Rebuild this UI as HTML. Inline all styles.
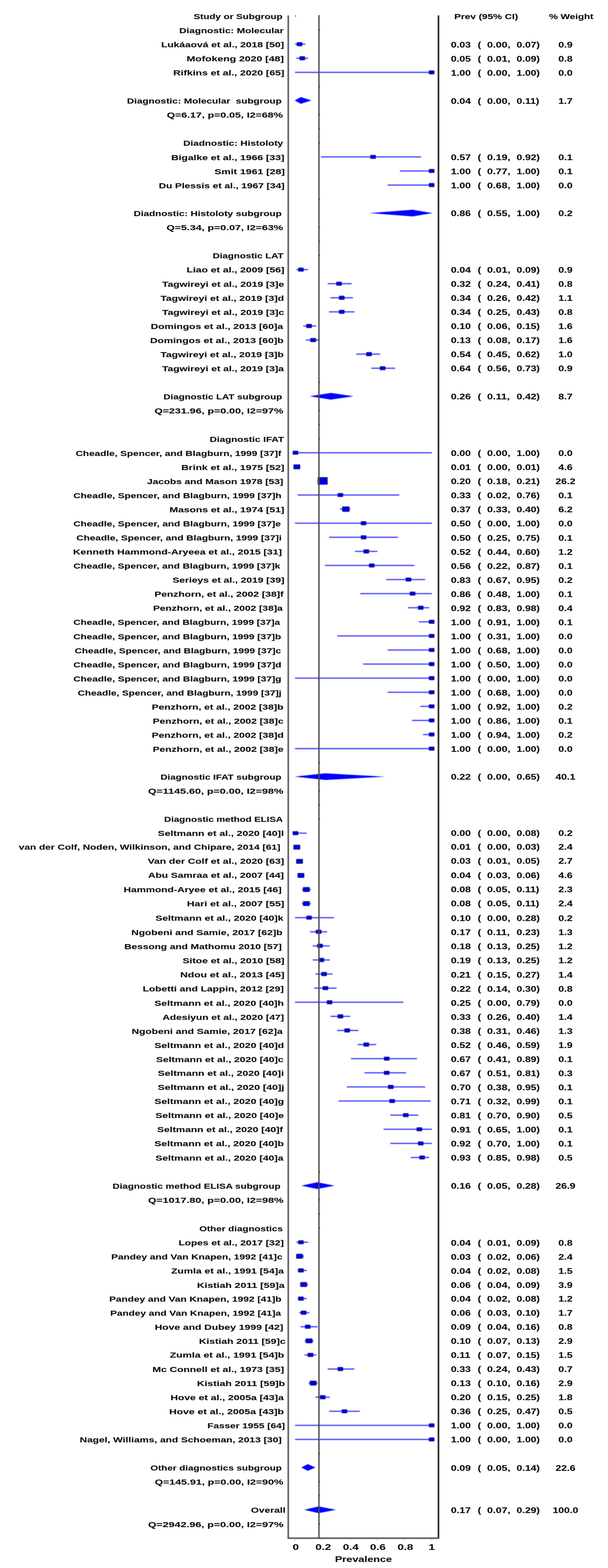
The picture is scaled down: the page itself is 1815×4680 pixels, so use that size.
<!DOCTYPE html>
<html lang="en"><head><meta charset="utf-8"><title>Forest plot</title>
<style>
html,body{margin:0;padding:0;background:#fff}
body{width:1815px;height:4680px;position:relative}
#fig{position:absolute;left:0;top:0;width:1815px;height:4680px}
#page{position:absolute;left:0;top:0;width:1815px;height:4680px}

.t{position:absolute;font:bold 22px/24px "Liberation Sans",sans-serif;color:#111;text-shadow:0 0 1.2px rgba(0,0,0,.45);white-space:pre;height:24px}
.r{transform-origin:0 50%}
.c{width:120px;text-align:center;transform-origin:50% 50%}
.ci{fill:#2c2cff}
.b{fill:#0000e0;stroke:#000058;stroke-width:1.6}
.d{fill:#0000ff}
</style></head><body><div id="page">
<svg id="fig" width="1815" height="4680" viewBox="0 0 1815 4680">
<defs>
<filter id="bl" x="-10%" y="-60%" width="120%" height="220%"><feGaussianBlur stdDeviation="0.8"/></filter>
<linearGradient id="gv" x1="0" y1="0" x2="1" y2="0"><stop offset="0.000" stop-color="#4a4a4a" stop-opacity="0.000"/><stop offset="0.025" stop-color="#4a4a4a" stop-opacity="0.000"/><stop offset="0.050" stop-color="#4a4a4a" stop-opacity="0.000"/><stop offset="0.075" stop-color="#4a4a4a" stop-opacity="0.000"/><stop offset="0.100" stop-color="#4a4a4a" stop-opacity="0.001"/><stop offset="0.125" stop-color="#4a4a4a" stop-opacity="0.016"/><stop offset="0.150" stop-color="#4a4a4a" stop-opacity="0.045"/><stop offset="0.175" stop-color="#4a4a4a" stop-opacity="0.091"/><stop offset="0.200" stop-color="#4a4a4a" stop-opacity="0.152"/><stop offset="0.225" stop-color="#4a4a4a" stop-opacity="0.229"/><stop offset="0.250" stop-color="#4a4a4a" stop-opacity="0.321"/><stop offset="0.275" stop-color="#4a4a4a" stop-opacity="0.429"/><stop offset="0.300" stop-color="#4a4a4a" stop-opacity="0.550"/><stop offset="0.325" stop-color="#4a4a4a" stop-opacity="0.661"/><stop offset="0.350" stop-color="#4a4a4a" stop-opacity="0.756"/><stop offset="0.375" stop-color="#4a4a4a" stop-opacity="0.835"/><stop offset="0.400" stop-color="#4a4a4a" stop-opacity="0.899"/><stop offset="0.425" stop-color="#4a4a4a" stop-opacity="0.948"/><stop offset="0.450" stop-color="#4a4a4a" stop-opacity="0.980"/><stop offset="0.475" stop-color="#4a4a4a" stop-opacity="0.997"/><stop offset="0.500" stop-color="#4a4a4a" stop-opacity="1.000"/><stop offset="0.525" stop-color="#4a4a4a" stop-opacity="0.997"/><stop offset="0.550" stop-color="#4a4a4a" stop-opacity="0.980"/><stop offset="0.575" stop-color="#4a4a4a" stop-opacity="0.947"/><stop offset="0.600" stop-color="#4a4a4a" stop-opacity="0.898"/><stop offset="0.625" stop-color="#4a4a4a" stop-opacity="0.834"/><stop offset="0.650" stop-color="#4a4a4a" stop-opacity="0.754"/><stop offset="0.675" stop-color="#4a4a4a" stop-opacity="0.659"/><stop offset="0.700" stop-color="#4a4a4a" stop-opacity="0.548"/><stop offset="0.725" stop-color="#4a4a4a" stop-opacity="0.427"/><stop offset="0.750" stop-color="#4a4a4a" stop-opacity="0.319"/><stop offset="0.775" stop-color="#4a4a4a" stop-opacity="0.227"/><stop offset="0.800" stop-color="#4a4a4a" stop-opacity="0.151"/><stop offset="0.825" stop-color="#4a4a4a" stop-opacity="0.090"/><stop offset="0.850" stop-color="#4a4a4a" stop-opacity="0.045"/><stop offset="0.875" stop-color="#4a4a4a" stop-opacity="0.015"/><stop offset="0.900" stop-color="#4a4a4a" stop-opacity="0.001"/><stop offset="0.925" stop-color="#4a4a4a" stop-opacity="0.000"/><stop offset="0.950" stop-color="#4a4a4a" stop-opacity="0.000"/><stop offset="0.975" stop-color="#4a4a4a" stop-opacity="0.000"/><stop offset="1.000" stop-color="#4a4a4a" stop-opacity="0.000"/></linearGradient>
<linearGradient id="gr" x1="0" y1="0" x2="1" y2="0"><stop offset="0.000" stop-color="#1a1a1a" stop-opacity="0.000"/><stop offset="0.025" stop-color="#1a1a1a" stop-opacity="0.000"/><stop offset="0.050" stop-color="#1a1a1a" stop-opacity="0.000"/><stop offset="0.075" stop-color="#1a1a1a" stop-opacity="0.000"/><stop offset="0.100" stop-color="#1a1a1a" stop-opacity="0.011"/><stop offset="0.125" stop-color="#1a1a1a" stop-opacity="0.038"/><stop offset="0.150" stop-color="#1a1a1a" stop-opacity="0.080"/><stop offset="0.175" stop-color="#1a1a1a" stop-opacity="0.138"/><stop offset="0.200" stop-color="#1a1a1a" stop-opacity="0.212"/><stop offset="0.225" stop-color="#1a1a1a" stop-opacity="0.301"/><stop offset="0.250" stop-color="#1a1a1a" stop-opacity="0.406"/><stop offset="0.275" stop-color="#1a1a1a" stop-opacity="0.526"/><stop offset="0.300" stop-color="#1a1a1a" stop-opacity="0.640"/><stop offset="0.325" stop-color="#1a1a1a" stop-opacity="0.738"/><stop offset="0.350" stop-color="#1a1a1a" stop-opacity="0.821"/><stop offset="0.375" stop-color="#1a1a1a" stop-opacity="0.888"/><stop offset="0.400" stop-color="#1a1a1a" stop-opacity="0.939"/><stop offset="0.425" stop-color="#1a1a1a" stop-opacity="0.975"/><stop offset="0.450" stop-color="#1a1a1a" stop-opacity="0.995"/><stop offset="0.475" stop-color="#1a1a1a" stop-opacity="1.000"/><stop offset="0.500" stop-color="#1a1a1a" stop-opacity="1.000"/><stop offset="0.525" stop-color="#1a1a1a" stop-opacity="1.000"/><stop offset="0.550" stop-color="#1a1a1a" stop-opacity="0.995"/><stop offset="0.575" stop-color="#1a1a1a" stop-opacity="0.975"/><stop offset="0.600" stop-color="#1a1a1a" stop-opacity="0.939"/><stop offset="0.625" stop-color="#1a1a1a" stop-opacity="0.888"/><stop offset="0.650" stop-color="#1a1a1a" stop-opacity="0.821"/><stop offset="0.675" stop-color="#1a1a1a" stop-opacity="0.738"/><stop offset="0.700" stop-color="#1a1a1a" stop-opacity="0.640"/><stop offset="0.725" stop-color="#1a1a1a" stop-opacity="0.526"/><stop offset="0.750" stop-color="#1a1a1a" stop-opacity="0.406"/><stop offset="0.775" stop-color="#1a1a1a" stop-opacity="0.301"/><stop offset="0.800" stop-color="#1a1a1a" stop-opacity="0.212"/><stop offset="0.825" stop-color="#1a1a1a" stop-opacity="0.138"/><stop offset="0.850" stop-color="#1a1a1a" stop-opacity="0.081"/><stop offset="0.875" stop-color="#1a1a1a" stop-opacity="0.038"/><stop offset="0.900" stop-color="#1a1a1a" stop-opacity="0.011"/><stop offset="0.925" stop-color="#1a1a1a" stop-opacity="0.000"/><stop offset="0.950" stop-color="#1a1a1a" stop-opacity="0.000"/><stop offset="0.975" stop-color="#1a1a1a" stop-opacity="0.000"/><stop offset="1.000" stop-color="#1a1a1a" stop-opacity="0.000"/></linearGradient>
<linearGradient id="gh" x1="0" y1="0" x2="0" y2="1"><stop offset="0.000" stop-color="#4a4a4a" stop-opacity="0.000"/><stop offset="0.025" stop-color="#4a4a4a" stop-opacity="0.000"/><stop offset="0.050" stop-color="#4a4a4a" stop-opacity="0.000"/><stop offset="0.075" stop-color="#4a4a4a" stop-opacity="0.000"/><stop offset="0.100" stop-color="#4a4a4a" stop-opacity="0.001"/><stop offset="0.125" stop-color="#4a4a4a" stop-opacity="0.016"/><stop offset="0.150" stop-color="#4a4a4a" stop-opacity="0.045"/><stop offset="0.175" stop-color="#4a4a4a" stop-opacity="0.091"/><stop offset="0.200" stop-color="#4a4a4a" stop-opacity="0.152"/><stop offset="0.225" stop-color="#4a4a4a" stop-opacity="0.229"/><stop offset="0.250" stop-color="#4a4a4a" stop-opacity="0.321"/><stop offset="0.275" stop-color="#4a4a4a" stop-opacity="0.429"/><stop offset="0.300" stop-color="#4a4a4a" stop-opacity="0.550"/><stop offset="0.325" stop-color="#4a4a4a" stop-opacity="0.661"/><stop offset="0.350" stop-color="#4a4a4a" stop-opacity="0.756"/><stop offset="0.375" stop-color="#4a4a4a" stop-opacity="0.835"/><stop offset="0.400" stop-color="#4a4a4a" stop-opacity="0.899"/><stop offset="0.425" stop-color="#4a4a4a" stop-opacity="0.948"/><stop offset="0.450" stop-color="#4a4a4a" stop-opacity="0.980"/><stop offset="0.475" stop-color="#4a4a4a" stop-opacity="0.997"/><stop offset="0.500" stop-color="#4a4a4a" stop-opacity="1.000"/><stop offset="0.525" stop-color="#4a4a4a" stop-opacity="0.997"/><stop offset="0.550" stop-color="#4a4a4a" stop-opacity="0.980"/><stop offset="0.575" stop-color="#4a4a4a" stop-opacity="0.947"/><stop offset="0.600" stop-color="#4a4a4a" stop-opacity="0.898"/><stop offset="0.625" stop-color="#4a4a4a" stop-opacity="0.834"/><stop offset="0.650" stop-color="#4a4a4a" stop-opacity="0.754"/><stop offset="0.675" stop-color="#4a4a4a" stop-opacity="0.659"/><stop offset="0.700" stop-color="#4a4a4a" stop-opacity="0.548"/><stop offset="0.725" stop-color="#4a4a4a" stop-opacity="0.427"/><stop offset="0.750" stop-color="#4a4a4a" stop-opacity="0.319"/><stop offset="0.775" stop-color="#4a4a4a" stop-opacity="0.227"/><stop offset="0.800" stop-color="#4a4a4a" stop-opacity="0.151"/><stop offset="0.825" stop-color="#4a4a4a" stop-opacity="0.090"/><stop offset="0.850" stop-color="#4a4a4a" stop-opacity="0.045"/><stop offset="0.875" stop-color="#4a4a4a" stop-opacity="0.015"/><stop offset="0.900" stop-color="#4a4a4a" stop-opacity="0.001"/><stop offset="0.925" stop-color="#4a4a4a" stop-opacity="0.000"/><stop offset="0.950" stop-color="#4a4a4a" stop-opacity="0.000"/><stop offset="0.975" stop-color="#4a4a4a" stop-opacity="0.000"/><stop offset="1.000" stop-color="#4a4a4a" stop-opacity="0.000"/></linearGradient>
</defs>
<g filter="url(#bl)"><rect class="ci" x="880.7" y="130.3" width="30.8" height="3.2"/><rect class="b" x="886.7" y="126.9" width="15.0" height="10.0" rx="1"/></g>
<g filter="url(#bl)"><rect class="ci" x="884.8" y="172.3" width="34.8" height="3.2"/><rect class="b" x="894.8" y="168.9" width="15.0" height="10.0" rx="1"/></g>
<g filter="url(#bl)"><rect class="ci" x="880.7" y="214.4" width="408.6" height="3.2"/><rect class="b" x="1281.0" y="211.0" width="15.0" height="10.0" rx="1"/></g>
<polygon class="d" filter="url(#bl)" points="879.5,299.7 898.3,289.7 929.7,299.7 898.3,309.7"/>
<g filter="url(#bl)"><rect class="ci" x="957.9" y="466.7" width="299.0" height="3.2"/><rect class="b" x="1106.2" y="463.3" width="15.0" height="10.0" rx="1"/></g>
<g filter="url(#bl)"><rect class="ci" x="1193.7" y="508.7" width="95.6" height="3.2"/><rect class="b" x="1281.0" y="505.3" width="15.0" height="10.0" rx="1"/></g>
<g filter="url(#bl)"><rect class="ci" x="1157.1" y="550.8" width="132.2" height="3.2"/><rect class="b" x="1281.0" y="547.4" width="15.0" height="10.0" rx="1"/></g>
<polygon class="d" filter="url(#bl)" points="1103.1,636.1 1231.6,626.1 1291.5,636.1 1231.6,646.1"/>
<g filter="url(#bl)"><rect class="ci" x="884.8" y="803.1" width="34.8" height="3.2"/><rect class="b" x="890.8" y="799.7" width="15.0" height="10.0" rx="1"/></g>
<g filter="url(#bl)"><rect class="ci" x="978.3" y="845.1" width="71.4" height="3.2"/><rect class="b" x="1004.6" y="841.7" width="15.0" height="10.0" rx="1"/></g>
<g filter="url(#bl)"><rect class="ci" x="986.4" y="887.2" width="67.3" height="3.2"/><rect class="b" x="1012.6" y="883.6" width="15.2" height="10.4" rx="1"/></g>
<g filter="url(#bl)"><rect class="ci" x="982.3" y="929.2" width="75.5" height="3.2"/><rect class="b" x="1012.7" y="925.8" width="15.0" height="10.0" rx="1"/></g>
<g filter="url(#bl)"><rect class="ci" x="905.1" y="971.3" width="38.9" height="3.2"/><rect class="b" x="915.0" y="967.7" width="15.2" height="10.4" rx="1"/></g>
<g filter="url(#bl)"><rect class="ci" x="913.2" y="1013.4" width="38.9" height="3.2"/><rect class="b" x="927.2" y="1009.8" width="15.2" height="10.4" rx="1"/></g>
<g filter="url(#bl)"><rect class="ci" x="1063.6" y="1055.4" width="71.4" height="3.2"/><rect class="b" x="1093.9" y="1051.8" width="15.2" height="10.4" rx="1"/></g>
<g filter="url(#bl)"><rect class="ci" x="1108.3" y="1097.5" width="71.4" height="3.2"/><rect class="b" x="1134.7" y="1094.0" width="15.0" height="10.0" rx="1"/></g>
<polygon class="d" filter="url(#bl)" points="924.2,1182.7 987.7,1172.7 1055.7,1182.7 987.7,1192.7"/>
<g filter="url(#bl)"><rect class="ci" x="880.7" y="1349.8" width="408.6" height="3.2"/><rect class="b" x="874.5" y="1346.3" width="15.0" height="10.0" rx="1"/></g>
<g filter="url(#bl)"><rect class="ci" x="880.7" y="1391.8" width="6.4" height="3.2"/><rect class="b" x="876.8" y="1387.1" width="18.6" height="12.6" rx="1"/></g>
<g filter="url(#bl)"><rect class="ci" x="953.9" y="1433.8" width="14.5" height="3.2"/><rect class="b" x="949.2" y="1425.1" width="28.1" height="20.6" rx="1"/></g>
<g filter="url(#bl)"><rect class="ci" x="888.8" y="1475.9" width="303.1" height="3.2"/><rect class="b" x="1008.6" y="1472.5" width="15.0" height="10.0" rx="1"/></g>
<g filter="url(#bl)"><rect class="ci" x="1014.8" y="1518.0" width="30.8" height="3.2"/><rect class="b" x="1022.1" y="1512.5" width="20.6" height="14.1" rx="1"/></g>
<g filter="url(#bl)"><rect class="ci" x="880.7" y="1560.0" width="408.6" height="3.2"/><rect class="b" x="1077.8" y="1556.6" width="15.0" height="10.0" rx="1"/></g>
<g filter="url(#bl)"><rect class="ci" x="982.3" y="1602.0" width="205.6" height="3.2"/><rect class="b" x="1077.8" y="1598.6" width="15.0" height="10.0" rx="1"/></g>
<g filter="url(#bl)"><rect class="ci" x="1059.6" y="1644.1" width="67.3" height="3.2"/><rect class="b" x="1085.8" y="1640.5" width="15.2" height="10.4" rx="1"/></g>
<g filter="url(#bl)"><rect class="ci" x="970.1" y="1686.1" width="266.5" height="3.2"/><rect class="b" x="1102.1" y="1682.7" width="15.0" height="10.0" rx="1"/></g>
<g filter="url(#bl)"><rect class="ci" x="1153.1" y="1728.2" width="116.1" height="3.2"/><rect class="b" x="1211.9" y="1724.8" width="15.0" height="10.0" rx="1"/></g>
<g filter="url(#bl)"><rect class="ci" x="1075.8" y="1770.2" width="213.5" height="3.2"/><rect class="b" x="1224.1" y="1766.8" width="15.0" height="10.0" rx="1"/></g>
<g filter="url(#bl)"><rect class="ci" x="1218.1" y="1812.3" width="63.3" height="3.2"/><rect class="b" x="1248.5" y="1808.9" width="15.0" height="10.0" rx="1"/></g>
<g filter="url(#bl)"><rect class="ci" x="1250.6" y="1854.3" width="38.7" height="3.2"/><rect class="b" x="1281.0" y="1850.9" width="15.0" height="10.0" rx="1"/></g>
<g filter="url(#bl)"><rect class="ci" x="1006.7" y="1896.4" width="282.6" height="3.2"/><rect class="b" x="1281.0" y="1893.0" width="15.0" height="10.0" rx="1"/></g>
<g filter="url(#bl)"><rect class="ci" x="1157.1" y="1938.4" width="132.2" height="3.2"/><rect class="b" x="1281.0" y="1935.0" width="15.0" height="10.0" rx="1"/></g>
<g filter="url(#bl)"><rect class="ci" x="1084.0" y="1980.5" width="205.3" height="3.2"/><rect class="b" x="1281.0" y="1977.1" width="15.0" height="10.0" rx="1"/></g>
<g filter="url(#bl)"><rect class="ci" x="880.7" y="2022.5" width="408.6" height="3.2"/><rect class="b" x="1281.0" y="2019.1" width="15.0" height="10.0" rx="1"/></g>
<g filter="url(#bl)"><rect class="ci" x="1157.1" y="2064.6" width="132.2" height="3.2"/><rect class="b" x="1281.0" y="2061.2" width="15.0" height="10.0" rx="1"/></g>
<g filter="url(#bl)"><rect class="ci" x="1254.7" y="2106.7" width="34.6" height="3.2"/><rect class="b" x="1281.0" y="2103.2" width="15.0" height="10.0" rx="1"/></g>
<g filter="url(#bl)"><rect class="ci" x="1230.3" y="2148.7" width="59.0" height="3.2"/><rect class="b" x="1281.0" y="2145.3" width="15.0" height="10.0" rx="1"/></g>
<g filter="url(#bl)"><rect class="ci" x="1262.8" y="2190.8" width="26.5" height="3.2"/><rect class="b" x="1281.0" y="2187.3" width="15.0" height="10.0" rx="1"/></g>
<g filter="url(#bl)"><rect class="ci" x="880.7" y="2232.8" width="408.6" height="3.2"/><rect class="b" x="1281.0" y="2229.4" width="15.0" height="10.0" rx="1"/></g>
<polygon class="d" filter="url(#bl)" points="879.5,2318.1 971.4,2308.1 1149.2,2318.1 971.4,2328.1"/>
<g filter="url(#bl)"><rect class="ci" x="880.7" y="2485.1" width="34.8" height="3.2"/><rect class="b" x="874.5" y="2481.7" width="15.0" height="10.0" rx="1"/></g>
<g filter="url(#bl)"><rect class="ci" x="880.7" y="2527.2" width="14.5" height="3.2"/><rect class="b" x="876.8" y="2522.4" width="18.6" height="12.6" rx="1"/></g>
<g filter="url(#bl)"><rect class="ci" x="884.8" y="2569.2" width="18.6" height="3.2"/><rect class="b" x="884.9" y="2564.5" width="18.6" height="12.6" rx="1"/></g>
<g filter="url(#bl)"><rect class="ci" x="892.9" y="2611.2" width="14.5" height="3.2"/><rect class="b" x="889.0" y="2606.5" width="18.6" height="12.6" rx="1"/></g>
<g filter="url(#bl)"><rect class="ci" x="901.0" y="2653.3" width="26.7" height="3.2"/><rect class="b" x="905.2" y="2648.6" width="18.6" height="12.6" rx="1"/></g>
<g filter="url(#bl)"><rect class="ci" x="901.0" y="2695.3" width="26.7" height="3.2"/><rect class="b" x="905.2" y="2690.6" width="18.6" height="12.6" rx="1"/></g>
<g filter="url(#bl)"><rect class="ci" x="880.7" y="2737.4" width="116.1" height="3.2"/><rect class="b" x="915.1" y="2734.0" width="15.0" height="10.0" rx="1"/></g>
<g filter="url(#bl)"><rect class="ci" x="925.4" y="2779.5" width="51.1" height="3.2"/><rect class="b" x="943.5" y="2775.9" width="15.2" height="10.4" rx="1"/></g>
<g filter="url(#bl)"><rect class="ci" x="933.5" y="2821.5" width="51.1" height="3.2"/><rect class="b" x="947.6" y="2817.9" width="15.2" height="10.4" rx="1"/></g>
<g filter="url(#bl)"><rect class="ci" x="933.5" y="2863.6" width="51.1" height="3.2"/><rect class="b" x="951.6" y="2860.0" width="15.2" height="10.4" rx="1"/></g>
<g filter="url(#bl)"><rect class="ci" x="941.7" y="2905.6" width="51.1" height="3.2"/><rect class="b" x="959.8" y="2902.0" width="15.2" height="10.4" rx="1"/></g>
<g filter="url(#bl)"><rect class="ci" x="937.6" y="2947.7" width="67.3" height="3.2"/><rect class="b" x="963.9" y="2944.2" width="15.0" height="10.0" rx="1"/></g>
<g filter="url(#bl)"><rect class="ci" x="880.7" y="2989.8" width="323.4" height="3.2"/><rect class="b" x="976.1" y="2986.4" width="15.0" height="10.0" rx="1"/></g>
<g filter="url(#bl)"><rect class="ci" x="986.4" y="3031.9" width="59.2" height="3.2"/><rect class="b" x="1008.5" y="3028.3" width="15.2" height="10.4" rx="1"/></g>
<g filter="url(#bl)"><rect class="ci" x="1006.7" y="3074.0" width="63.3" height="3.2"/><rect class="b" x="1028.9" y="3070.4" width="15.2" height="10.4" rx="1"/></g>
<g filter="url(#bl)"><rect class="ci" x="1067.7" y="3116.1" width="55.1" height="3.2"/><rect class="b" x="1085.8" y="3112.5" width="15.2" height="10.4" rx="1"/></g>
<g filter="url(#bl)"><rect class="ci" x="1047.4" y="3158.2" width="197.4" height="3.2"/><rect class="b" x="1146.9" y="3154.8" width="15.0" height="10.0" rx="1"/></g>
<g filter="url(#bl)"><rect class="ci" x="1088.0" y="3200.4" width="124.3" height="3.2"/><rect class="b" x="1146.9" y="3197.0" width="15.0" height="10.0" rx="1"/></g>
<g filter="url(#bl)"><rect class="ci" x="1035.2" y="3242.5" width="234.0" height="3.2"/><rect class="b" x="1159.0" y="3239.1" width="15.0" height="10.0" rx="1"/></g>
<g filter="url(#bl)"><rect class="ci" x="1010.8" y="3284.6" width="274.7" height="3.2"/><rect class="b" x="1163.1" y="3281.2" width="15.0" height="10.0" rx="1"/></g>
<g filter="url(#bl)"><rect class="ci" x="1165.2" y="3326.8" width="83.6" height="3.2"/><rect class="b" x="1203.8" y="3323.4" width="15.0" height="10.0" rx="1"/></g>
<g filter="url(#bl)"><rect class="ci" x="1144.9" y="3368.9" width="144.4" height="3.2"/><rect class="b" x="1244.4" y="3365.5" width="15.0" height="10.0" rx="1"/></g>
<g filter="url(#bl)"><rect class="ci" x="1165.2" y="3411.1" width="124.0" height="3.2"/><rect class="b" x="1248.5" y="3407.7" width="15.0" height="10.0" rx="1"/></g>
<g filter="url(#bl)"><rect class="ci" x="1226.2" y="3453.2" width="55.1" height="3.2"/><rect class="b" x="1252.5" y="3449.8" width="15.0" height="10.0" rx="1"/></g>
<polygon class="d" filter="url(#bl)" points="899.8,3538.7 947.0,3528.7 998.8,3538.7 947.0,3548.7"/>
<g filter="url(#bl)"><rect class="ci" x="884.8" y="3706.1" width="34.8" height="3.2"/><rect class="b" x="890.8" y="3702.7" width="15.0" height="10.0" rx="1"/></g>
<g filter="url(#bl)"><rect class="ci" x="888.8" y="3748.1" width="18.6" height="3.2"/><rect class="b" x="884.9" y="3743.4" width="18.6" height="12.6" rx="1"/></g>
<g filter="url(#bl)"><rect class="ci" x="888.8" y="3790.2" width="26.7" height="3.2"/><rect class="b" x="890.7" y="3786.6" width="15.2" height="10.4" rx="1"/></g>
<g filter="url(#bl)"><rect class="ci" x="897.0" y="3832.2" width="22.6" height="3.2"/><rect class="b" x="897.1" y="3827.5" width="18.6" height="12.6" rx="1"/></g>
<g filter="url(#bl)"><rect class="ci" x="888.8" y="3874.2" width="26.7" height="3.2"/><rect class="b" x="890.7" y="3870.7" width="15.2" height="10.4" rx="1"/></g>
<g filter="url(#bl)"><rect class="ci" x="892.9" y="3916.3" width="30.8" height="3.2"/><rect class="b" x="898.8" y="3912.7" width="15.2" height="10.4" rx="1"/></g>
<g filter="url(#bl)"><rect class="ci" x="897.0" y="3958.3" width="51.1" height="3.2"/><rect class="b" x="911.1" y="3954.9" width="15.0" height="10.0" rx="1"/></g>
<g filter="url(#bl)"><rect class="ci" x="909.2" y="4000.4" width="26.7" height="3.2"/><rect class="b" x="913.4" y="3995.7" width="18.6" height="12.6" rx="1"/></g>
<g filter="url(#bl)"><rect class="ci" x="909.2" y="4042.4" width="34.8" height="3.2"/><rect class="b" x="919.1" y="4038.8" width="15.2" height="10.4" rx="1"/></g>
<g filter="url(#bl)"><rect class="ci" x="978.3" y="4084.5" width="79.5" height="3.2"/><rect class="b" x="1008.6" y="4081.1" width="15.0" height="10.0" rx="1"/></g>
<g filter="url(#bl)"><rect class="ci" x="921.4" y="4126.5" width="26.7" height="3.2"/><rect class="b" x="925.5" y="4121.8" width="18.6" height="12.6" rx="1"/></g>
<g filter="url(#bl)"><rect class="ci" x="941.7" y="4168.6" width="42.9" height="3.2"/><rect class="b" x="955.7" y="4165.0" width="15.2" height="10.4" rx="1"/></g>
<g filter="url(#bl)"><rect class="ci" x="982.3" y="4210.6" width="91.7" height="3.2"/><rect class="b" x="1020.8" y="4207.2" width="15.0" height="10.0" rx="1"/></g>
<g filter="url(#bl)"><rect class="ci" x="880.7" y="4252.7" width="408.6" height="3.2"/><rect class="b" x="1281.0" y="4249.3" width="15.0" height="10.0" rx="1"/></g>
<g filter="url(#bl)"><rect class="ci" x="880.7" y="4294.7" width="408.6" height="3.2"/><rect class="b" x="1281.0" y="4291.3" width="15.0" height="10.0" rx="1"/></g>
<polygon class="d" filter="url(#bl)" points="899.8,4380.1 918.6,4370.1 941.9,4380.1 918.6,4390.1"/>
<polygon class="d" filter="url(#bl)" points="908.0,4506.2 951.1,4496.2 1002.9,4506.2 951.1,4516.2"/>
<rect x="855.50" y="46.0" width="10" height="4546.5" fill="url(#gv)"/>
<rect x="947.10" y="45.0" width="10" height="4546.0" fill="url(#gv)"/>
<rect x="1303.90" y="46.0" width="10" height="4546.0" fill="url(#gr)"/>
<rect x="859.0" y="4586.00" width="451.4" height="10" fill="url(#gh)"/>
<rect x="880.4" y="46.5" width="3" height="3" fill="#1a1a1a" filter="url(#bl)"/>
<rect x="951.9" y="88.3" width="3" height="3" fill="#1a1a1a" filter="url(#bl)"/>
<rect x="951.9" y="256.6" width="3" height="3" fill="#1a1a1a" filter="url(#bl)"/>
<rect x="951.9" y="340.6" width="3" height="3" fill="#1a1a1a" filter="url(#bl)"/>
<rect x="951.9" y="382.7" width="3" height="3" fill="#1a1a1a" filter="url(#bl)"/>
<rect x="951.9" y="424.8" width="3" height="3" fill="#1a1a1a" filter="url(#bl)"/>
<rect x="951.9" y="592.9" width="3" height="3" fill="#1a1a1a" filter="url(#bl)"/>
<rect x="951.9" y="677.0" width="3" height="3" fill="#1a1a1a" filter="url(#bl)"/>
<rect x="951.9" y="719.1" width="3" height="3" fill="#1a1a1a" filter="url(#bl)"/>
<rect x="951.9" y="761.1" width="3" height="3" fill="#1a1a1a" filter="url(#bl)"/>
<rect x="951.9" y="1139.6" width="3" height="3" fill="#1a1a1a" filter="url(#bl)"/>
<rect x="951.9" y="1223.7" width="3" height="3" fill="#1a1a1a" filter="url(#bl)"/>
<rect x="951.9" y="1265.7" width="3" height="3" fill="#1a1a1a" filter="url(#bl)"/>
<rect x="951.9" y="1307.8" width="3" height="3" fill="#1a1a1a" filter="url(#bl)"/>
<rect x="951.9" y="2274.9" width="3" height="3" fill="#1a1a1a" filter="url(#bl)"/>
<rect x="951.9" y="2359.1" width="3" height="3" fill="#1a1a1a" filter="url(#bl)"/>
<rect x="951.9" y="2401.1" width="3" height="3" fill="#1a1a1a" filter="url(#bl)"/>
<rect x="951.9" y="2443.2" width="3" height="3" fill="#1a1a1a" filter="url(#bl)"/>
<rect x="951.9" y="3495.4" width="3" height="3" fill="#1a1a1a" filter="url(#bl)"/>
<rect x="951.9" y="3579.7" width="3" height="3" fill="#1a1a1a" filter="url(#bl)"/>
<rect x="951.9" y="3621.9" width="3" height="3" fill="#1a1a1a" filter="url(#bl)"/>
<rect x="951.9" y="3664.0" width="3" height="3" fill="#1a1a1a" filter="url(#bl)"/>
<rect x="951.9" y="4336.9" width="3" height="3" fill="#1a1a1a" filter="url(#bl)"/>
<rect x="951.9" y="4421.0" width="3" height="3" fill="#1a1a1a" filter="url(#bl)"/>
<rect x="951.9" y="4463.1" width="3" height="3" fill="#1a1a1a" filter="url(#bl)"/>
<rect x="951.9" y="4547.1" width="3" height="3" fill="#1a1a1a" filter="url(#bl)"/>
<line x1="880.8" y1="4592.5" x2="880.8" y2="4598.0" stroke="#bdbdbd" stroke-width="2"/>
<line x1="962.4" y1="4592.5" x2="962.4" y2="4598.0" stroke="#bdbdbd" stroke-width="2"/>
<line x1="1044.0" y1="4592.5" x2="1044.0" y2="4598.0" stroke="#bdbdbd" stroke-width="2"/>
<line x1="1125.6" y1="4592.5" x2="1125.6" y2="4598.0" stroke="#bdbdbd" stroke-width="2"/>
<line x1="1207.2" y1="4592.5" x2="1207.2" y2="4598.0" stroke="#bdbdbd" stroke-width="2"/>
<line x1="1288.8" y1="4592.5" x2="1288.8" y2="4598.0" stroke="#bdbdbd" stroke-width="2"/>
</svg>
<div class="t r" style="top:38.18px;left:577.80px;transform:scaleX(1.3323)">Study or Subgroup</div>
<div class="t r" style="top:38.38px;left:1356.07px;transform:scaleX(1.3552)">Prev (95% CI)</div>
<div class="t r" style="top:38.38px;left:1639.00px;transform:scaleX(1.3425)">% Weight</div>
<div class="t r" style="top:80.21px;left:534.56px;transform:scaleX(1.3637)">Diagnostic: Molecular</div>
<div class="t r" style="top:122.24px;left:480.92px;transform:scaleX(1.3892)">Lukáaová et al., 2018 [50]</div>
<div class="t r" style="top:121.55px;left:1345.60px;transform:scaleX(1.2775);font-size:24px">0.03</div>
<div class="t r" style="top:121.55px;left:1425.60px;transform:scaleX(1.2775);font-size:24px">(</div>
<div class="t r" style="top:121.55px;left:1453.60px;transform:scaleX(1.3037);font-size:24px">0.00,</div>
<div class="t r" style="top:121.55px;left:1542.00px;transform:scaleX(1.2688);font-size:24px">0.07)</div>
<div class="t c" style="top:121.55px;left:1628.30px;transform:scaleX(1.2775);font-size:24px">0.9</div>
<div class="t r" style="top:164.28px;left:557.46px;transform:scaleX(1.4224)">Mofokeng 2020 [48]</div>
<div class="t r" style="top:163.58px;left:1345.60px;transform:scaleX(1.2775);font-size:24px">0.05</div>
<div class="t r" style="top:163.58px;left:1425.60px;transform:scaleX(1.2775);font-size:24px">(</div>
<div class="t r" style="top:163.58px;left:1453.60px;transform:scaleX(1.3037);font-size:24px">0.01,</div>
<div class="t r" style="top:163.58px;left:1542.00px;transform:scaleX(1.2688);font-size:24px">0.09)</div>
<div class="t c" style="top:163.58px;left:1628.30px;transform:scaleX(1.2775);font-size:24px">0.8</div>
<div class="t r" style="top:206.31px;left:517.49px;transform:scaleX(1.4063)">Rifkins et al., 2020 [65]</div>
<div class="t r" style="top:205.62px;left:1345.60px;transform:scaleX(1.2775);font-size:24px">1.00</div>
<div class="t r" style="top:205.62px;left:1425.60px;transform:scaleX(1.2775);font-size:24px">(</div>
<div class="t r" style="top:205.62px;left:1453.60px;transform:scaleX(1.3037);font-size:24px">0.00,</div>
<div class="t r" style="top:205.62px;left:1542.00px;transform:scaleX(1.2688);font-size:24px">1.00)</div>
<div class="t c" style="top:205.62px;left:1628.30px;transform:scaleX(1.2775);font-size:24px">0.0</div>
<div class="t r" style="top:290.38px;left:379.38px;transform:scaleX(1.3496)">Diagnostic: Molecular  subgroup</div>
<div class="t r" style="top:289.68px;left:1345.60px;transform:scaleX(1.2775);font-size:24px">0.04</div>
<div class="t r" style="top:289.68px;left:1425.60px;transform:scaleX(1.2775);font-size:24px">(</div>
<div class="t r" style="top:289.68px;left:1453.60px;transform:scaleX(1.3037);font-size:24px">0.00,</div>
<div class="t r" style="top:289.68px;left:1542.00px;transform:scaleX(1.2688);font-size:24px">0.11)</div>
<div class="t c" style="top:289.68px;left:1628.30px;transform:scaleX(1.2775);font-size:24px">1.7</div>
<div class="t r" style="top:332.41px;left:497.60px;transform:scaleX(1.4347)">Q=6.17, p=0.05, I2=68%</div>
<div class="t r" style="top:416.48px;left:546.87px;transform:scaleX(1.3551)">Diadnostic: Histoloty</div>
<div class="t r" style="top:458.51px;left:511.00px;transform:scaleX(1.4027)">Bigalke et al., 1966 [33]</div>
<div class="t r" style="top:457.82px;left:1345.60px;transform:scaleX(1.2775);font-size:24px">0.57</div>
<div class="t r" style="top:457.82px;left:1425.60px;transform:scaleX(1.2775);font-size:24px">(</div>
<div class="t r" style="top:457.82px;left:1453.60px;transform:scaleX(1.3037);font-size:24px">0.19,</div>
<div class="t r" style="top:457.82px;left:1542.00px;transform:scaleX(1.2688);font-size:24px">0.92)</div>
<div class="t c" style="top:457.82px;left:1628.30px;transform:scaleX(1.2775);font-size:24px">0.1</div>
<div class="t r" style="top:500.54px;left:640.06px;transform:scaleX(1.4212)">Smit 1961 [28]</div>
<div class="t r" style="top:499.85px;left:1345.60px;transform:scaleX(1.2775);font-size:24px">1.00</div>
<div class="t r" style="top:499.85px;left:1425.60px;transform:scaleX(1.2775);font-size:24px">(</div>
<div class="t r" style="top:499.85px;left:1453.60px;transform:scaleX(1.3037);font-size:24px">0.77,</div>
<div class="t r" style="top:499.85px;left:1542.00px;transform:scaleX(1.2688);font-size:24px">1.00)</div>
<div class="t c" style="top:499.85px;left:1628.30px;transform:scaleX(1.2775);font-size:24px">0.1</div>
<div class="t r" style="top:542.58px;left:474.45px;transform:scaleX(1.3706)">Du Plessis et al., 1967 [34]</div>
<div class="t r" style="top:541.88px;left:1345.60px;transform:scaleX(1.2775);font-size:24px">1.00</div>
<div class="t r" style="top:541.88px;left:1425.60px;transform:scaleX(1.2775);font-size:24px">(</div>
<div class="t r" style="top:541.88px;left:1453.60px;transform:scaleX(1.3037);font-size:24px">0.68,</div>
<div class="t r" style="top:541.88px;left:1542.00px;transform:scaleX(1.2688);font-size:24px">1.00)</div>
<div class="t c" style="top:541.88px;left:1628.30px;transform:scaleX(1.2775);font-size:24px">0.0</div>
<div class="t r" style="top:625.88px;left:399.38px;transform:scaleX(1.3490)">Diadnostic: Histoloty subgroup</div>
<div class="t r" style="top:625.18px;left:1345.60px;transform:scaleX(1.2775);font-size:24px">0.86</div>
<div class="t r" style="top:625.18px;left:1425.60px;transform:scaleX(1.2775);font-size:24px">(</div>
<div class="t r" style="top:625.18px;left:1453.60px;transform:scaleX(1.3037);font-size:24px">0.55,</div>
<div class="t r" style="top:625.18px;left:1542.00px;transform:scaleX(1.2688);font-size:24px">1.00)</div>
<div class="t c" style="top:625.18px;left:1628.30px;transform:scaleX(1.2775);font-size:24px">0.2</div>
<div class="t r" style="top:668.18px;left:496.59px;transform:scaleX(1.4418)">Q=5.34, p=0.07, I2=63%</div>
<div class="t r" style="top:752.48px;left:635.22px;transform:scaleX(1.3237)">Diagnostic LAT</div>
<div class="t r" style="top:794.48px;left:557.49px;transform:scaleX(1.4052)">Liao et al., 2009 [56]</div>
<div class="t r" style="top:793.78px;left:1345.60px;transform:scaleX(1.2775);font-size:24px">0.04</div>
<div class="t r" style="top:793.78px;left:1425.60px;transform:scaleX(1.2775);font-size:24px">(</div>
<div class="t r" style="top:793.78px;left:1453.60px;transform:scaleX(1.3037);font-size:24px">0.01,</div>
<div class="t r" style="top:793.78px;left:1542.00px;transform:scaleX(1.2688);font-size:24px">0.09)</div>
<div class="t c" style="top:793.78px;left:1628.30px;transform:scaleX(1.2775);font-size:24px">0.9</div>
<div class="t r" style="top:836.50px;left:484.10px;transform:scaleX(1.3875)">Tagwireyi et al., 2019 [3]e</div>
<div class="t r" style="top:835.81px;left:1345.60px;transform:scaleX(1.2775);font-size:24px">0.32</div>
<div class="t r" style="top:835.81px;left:1425.60px;transform:scaleX(1.2775);font-size:24px">(</div>
<div class="t r" style="top:835.81px;left:1453.60px;transform:scaleX(1.3037);font-size:24px">0.24,</div>
<div class="t r" style="top:835.81px;left:1542.00px;transform:scaleX(1.2688);font-size:24px">0.41)</div>
<div class="t c" style="top:835.81px;left:1628.30px;transform:scaleX(1.2775);font-size:24px">0.8</div>
<div class="t r" style="top:878.52px;left:479.10px;transform:scaleX(1.3981)">Tagwireyi et al., 2019 [3]d</div>
<div class="t r" style="top:877.83px;left:1345.60px;transform:scaleX(1.2775);font-size:24px">0.34</div>
<div class="t r" style="top:877.83px;left:1425.60px;transform:scaleX(1.2775);font-size:24px">(</div>
<div class="t r" style="top:877.83px;left:1453.60px;transform:scaleX(1.3037);font-size:24px">0.26,</div>
<div class="t r" style="top:877.83px;left:1542.00px;transform:scaleX(1.2688);font-size:24px">0.42)</div>
<div class="t c" style="top:877.83px;left:1628.30px;transform:scaleX(1.2775);font-size:24px">1.1</div>
<div class="t r" style="top:920.54px;left:484.10px;transform:scaleX(1.3875)">Tagwireyi et al., 2019 [3]c</div>
<div class="t r" style="top:919.85px;left:1345.60px;transform:scaleX(1.2775);font-size:24px">0.34</div>
<div class="t r" style="top:919.85px;left:1425.60px;transform:scaleX(1.2775);font-size:24px">(</div>
<div class="t r" style="top:919.85px;left:1453.60px;transform:scaleX(1.3037);font-size:24px">0.25,</div>
<div class="t r" style="top:919.85px;left:1542.00px;transform:scaleX(1.2688);font-size:24px">0.43)</div>
<div class="t c" style="top:919.85px;left:1628.30px;transform:scaleX(1.2775);font-size:24px">0.8</div>
<div class="t r" style="top:962.56px;left:449.90px;transform:scaleX(1.3994)">Domingos et al., 2013 [60]a</div>
<div class="t r" style="top:961.87px;left:1345.60px;transform:scaleX(1.2775);font-size:24px">0.10</div>
<div class="t r" style="top:961.87px;left:1425.60px;transform:scaleX(1.2775);font-size:24px">(</div>
<div class="t r" style="top:961.87px;left:1453.60px;transform:scaleX(1.3037);font-size:24px">0.06,</div>
<div class="t r" style="top:961.87px;left:1542.00px;transform:scaleX(1.2688);font-size:24px">0.15)</div>
<div class="t c" style="top:961.87px;left:1628.30px;transform:scaleX(1.2775);font-size:24px">1.6</div>
<div class="t r" style="top:1004.58px;left:448.39px;transform:scaleX(1.4057)">Domingos et al., 2013 [60]b</div>
<div class="t r" style="top:1003.89px;left:1345.60px;transform:scaleX(1.2775);font-size:24px">0.13</div>
<div class="t r" style="top:1003.89px;left:1425.60px;transform:scaleX(1.2775);font-size:24px">(</div>
<div class="t r" style="top:1003.89px;left:1453.60px;transform:scaleX(1.3037);font-size:24px">0.08,</div>
<div class="t r" style="top:1003.89px;left:1542.00px;transform:scaleX(1.2688);font-size:24px">0.17)</div>
<div class="t c" style="top:1003.89px;left:1628.30px;transform:scaleX(1.2775);font-size:24px">1.6</div>
<div class="t r" style="top:1046.61px;left:479.10px;transform:scaleX(1.3953)">Tagwireyi et al., 2019 [3]b</div>
<div class="t r" style="top:1045.91px;left:1345.60px;transform:scaleX(1.2775);font-size:24px">0.54</div>
<div class="t r" style="top:1045.91px;left:1425.60px;transform:scaleX(1.2775);font-size:24px">(</div>
<div class="t r" style="top:1045.91px;left:1453.60px;transform:scaleX(1.3037);font-size:24px">0.45,</div>
<div class="t r" style="top:1045.91px;left:1542.00px;transform:scaleX(1.2688);font-size:24px">0.62)</div>
<div class="t c" style="top:1045.91px;left:1628.30px;transform:scaleX(1.2775);font-size:24px">1.0</div>
<div class="t r" style="top:1088.63px;left:484.10px;transform:scaleX(1.3848)">Tagwireyi et al., 2019 [3]a</div>
<div class="t r" style="top:1087.93px;left:1345.60px;transform:scaleX(1.2775);font-size:24px">0.64</div>
<div class="t r" style="top:1087.93px;left:1425.60px;transform:scaleX(1.2775);font-size:24px">(</div>
<div class="t r" style="top:1087.93px;left:1453.60px;transform:scaleX(1.3037);font-size:24px">0.56,</div>
<div class="t r" style="top:1087.93px;left:1542.00px;transform:scaleX(1.2688);font-size:24px">0.73)</div>
<div class="t c" style="top:1087.93px;left:1628.30px;transform:scaleX(1.2775);font-size:24px">0.9</div>
<div class="t r" style="top:1173.06px;left:487.52px;transform:scaleX(1.3258)">Diagnostic LAT subgroup</div>
<div class="t r" style="top:1172.37px;left:1345.60px;transform:scaleX(1.2775);font-size:24px">0.26</div>
<div class="t r" style="top:1172.37px;left:1425.60px;transform:scaleX(1.2775);font-size:24px">(</div>
<div class="t r" style="top:1172.37px;left:1453.60px;transform:scaleX(1.3037);font-size:24px">0.11,</div>
<div class="t r" style="top:1172.37px;left:1542.00px;transform:scaleX(1.2688);font-size:24px">0.42)</div>
<div class="t c" style="top:1172.37px;left:1628.30px;transform:scaleX(1.2775);font-size:24px">8.7</div>
<div class="t r" style="top:1215.28px;left:460.58px;transform:scaleX(1.4475)">Q=231.96, p=0.00, I2=97%</div>
<div class="t r" style="top:1299.71px;left:626.38px;transform:scaleX(1.3474)">Diagnostic IFAT</div>
<div class="t r" style="top:1341.93px;left:225.58px;transform:scaleX(1.3601)">Cheadle, Spencer, and Blagburn, 1999 [37]f</div>
<div class="t r" style="top:1341.23px;left:1345.60px;transform:scaleX(1.2775);font-size:24px">0.00</div>
<div class="t r" style="top:1341.23px;left:1425.60px;transform:scaleX(1.2775);font-size:24px">(</div>
<div class="t r" style="top:1341.23px;left:1453.60px;transform:scaleX(1.3037);font-size:24px">0.00,</div>
<div class="t r" style="top:1341.23px;left:1542.00px;transform:scaleX(1.2688);font-size:24px">1.00)</div>
<div class="t c" style="top:1341.23px;left:1628.30px;transform:scaleX(1.2775);font-size:24px">0.0</div>
<div class="t r" style="top:1383.97px;left:541.19px;transform:scaleX(1.4062)">Brink et al., 1975 [52]</div>
<div class="t r" style="top:1383.28px;left:1345.60px;transform:scaleX(1.2775);font-size:24px">0.01</div>
<div class="t r" style="top:1383.28px;left:1425.60px;transform:scaleX(1.2775);font-size:24px">(</div>
<div class="t r" style="top:1383.28px;left:1453.60px;transform:scaleX(1.3037);font-size:24px">0.00,</div>
<div class="t r" style="top:1383.28px;left:1542.00px;transform:scaleX(1.2688);font-size:24px">0.01)</div>
<div class="t c" style="top:1383.28px;left:1628.30px;transform:scaleX(1.2775);font-size:24px">4.6</div>
<div class="t r" style="top:1426.02px;left:439.08px;transform:scaleX(1.3678)">Jacobs and Mason 1978 [53]</div>
<div class="t r" style="top:1425.32px;left:1345.60px;transform:scaleX(1.2775);font-size:24px">0.20</div>
<div class="t r" style="top:1425.32px;left:1425.60px;transform:scaleX(1.2775);font-size:24px">(</div>
<div class="t r" style="top:1425.32px;left:1453.60px;transform:scaleX(1.3037);font-size:24px">0.18,</div>
<div class="t r" style="top:1425.32px;left:1542.00px;transform:scaleX(1.2688);font-size:24px">0.21)</div>
<div class="t c" style="top:1425.32px;left:1628.30px;transform:scaleX(1.2775);font-size:24px">26.2</div>
<div class="t r" style="top:1468.06px;left:219.08px;transform:scaleX(1.3586)">Cheadle, Spencer, and Blagburn, 1999 [37]h</div>
<div class="t r" style="top:1467.37px;left:1345.60px;transform:scaleX(1.2775);font-size:24px">0.33</div>
<div class="t r" style="top:1467.37px;left:1425.60px;transform:scaleX(1.2775);font-size:24px">(</div>
<div class="t r" style="top:1467.37px;left:1453.60px;transform:scaleX(1.3037);font-size:24px">0.02,</div>
<div class="t r" style="top:1467.37px;left:1542.00px;transform:scaleX(1.2688);font-size:24px">0.76)</div>
<div class="t c" style="top:1467.37px;left:1628.30px;transform:scaleX(1.2775);font-size:24px">0.1</div>
<div class="t r" style="top:1510.10px;left:506.10px;transform:scaleX(1.4021)">Masons et al., 1974 [51]</div>
<div class="t r" style="top:1509.41px;left:1345.60px;transform:scaleX(1.2775);font-size:24px">0.37</div>
<div class="t r" style="top:1509.41px;left:1425.60px;transform:scaleX(1.2775);font-size:24px">(</div>
<div class="t r" style="top:1509.41px;left:1453.60px;transform:scaleX(1.3037);font-size:24px">0.33,</div>
<div class="t r" style="top:1509.41px;left:1542.00px;transform:scaleX(1.2688);font-size:24px">0.40)</div>
<div class="t c" style="top:1509.41px;left:1628.30px;transform:scaleX(1.2775);font-size:24px">6.2</div>
<div class="t r" style="top:1552.15px;left:219.08px;transform:scaleX(1.3582)">Cheadle, Spencer, and Blagburn, 1999 [37]e</div>
<div class="t r" style="top:1551.45px;left:1345.60px;transform:scaleX(1.2775);font-size:24px">0.50</div>
<div class="t r" style="top:1551.45px;left:1425.60px;transform:scaleX(1.2775);font-size:24px">(</div>
<div class="t r" style="top:1551.45px;left:1453.60px;transform:scaleX(1.3037);font-size:24px">0.00,</div>
<div class="t r" style="top:1551.45px;left:1542.00px;transform:scaleX(1.2688);font-size:24px">1.00)</div>
<div class="t c" style="top:1551.45px;left:1628.30px;transform:scaleX(1.2775);font-size:24px">0.0</div>
<div class="t r" style="top:1594.19px;left:227.57px;transform:scaleX(1.3618)">Cheadle, Spencer, and Blagburn, 1999 [37]i</div>
<div class="t r" style="top:1593.50px;left:1345.60px;transform:scaleX(1.2775);font-size:24px">0.50</div>
<div class="t r" style="top:1593.50px;left:1425.60px;transform:scaleX(1.2775);font-size:24px">(</div>
<div class="t r" style="top:1593.50px;left:1453.60px;transform:scaleX(1.3037);font-size:24px">0.25,</div>
<div class="t r" style="top:1593.50px;left:1542.00px;transform:scaleX(1.2688);font-size:24px">0.75)</div>
<div class="t c" style="top:1593.50px;left:1628.30px;transform:scaleX(1.2775);font-size:24px">0.1</div>
<div class="t r" style="top:1636.24px;left:218.30px;transform:scaleX(1.4008)">Kenneth Hammond-Aryeea et al., 2015 [31]</div>
<div class="t r" style="top:1635.54px;left:1345.60px;transform:scaleX(1.2775);font-size:24px">0.52</div>
<div class="t r" style="top:1635.54px;left:1425.60px;transform:scaleX(1.2775);font-size:24px">(</div>
<div class="t r" style="top:1635.54px;left:1453.60px;transform:scaleX(1.3037);font-size:24px">0.44,</div>
<div class="t r" style="top:1635.54px;left:1542.00px;transform:scaleX(1.2688);font-size:24px">0.60)</div>
<div class="t c" style="top:1635.54px;left:1628.30px;transform:scaleX(1.2775);font-size:24px">1.2</div>
<div class="t r" style="top:1678.28px;left:219.08px;transform:scaleX(1.3544)">Cheadle, Spencer, and Blagburn, 1999 [37]k</div>
<div class="t r" style="top:1677.59px;left:1345.60px;transform:scaleX(1.2775);font-size:24px">0.56</div>
<div class="t r" style="top:1677.59px;left:1425.60px;transform:scaleX(1.2775);font-size:24px">(</div>
<div class="t r" style="top:1677.59px;left:1453.60px;transform:scaleX(1.3037);font-size:24px">0.22,</div>
<div class="t r" style="top:1677.59px;left:1542.00px;transform:scaleX(1.2688);font-size:24px">0.87)</div>
<div class="t c" style="top:1677.59px;left:1628.30px;transform:scaleX(1.2775);font-size:24px">0.1</div>
<div class="t r" style="top:1720.32px;left:515.07px;transform:scaleX(1.3865)">Serieys et al., 2019 [39]</div>
<div class="t r" style="top:1719.63px;left:1345.60px;transform:scaleX(1.2775);font-size:24px">0.83</div>
<div class="t r" style="top:1719.63px;left:1425.60px;transform:scaleX(1.2775);font-size:24px">(</div>
<div class="t r" style="top:1719.63px;left:1453.60px;transform:scaleX(1.3037);font-size:24px">0.67,</div>
<div class="t r" style="top:1719.63px;left:1542.00px;transform:scaleX(1.2688);font-size:24px">0.95)</div>
<div class="t c" style="top:1719.63px;left:1628.30px;transform:scaleX(1.2775);font-size:24px">0.2</div>
<div class="t r" style="top:1762.37px;left:461.31px;transform:scaleX(1.3949)">Penzhorn, et al., 2002 [38]f</div>
<div class="t r" style="top:1761.68px;left:1345.60px;transform:scaleX(1.2775);font-size:24px">0.86</div>
<div class="t r" style="top:1761.68px;left:1425.60px;transform:scaleX(1.2775);font-size:24px">(</div>
<div class="t r" style="top:1761.68px;left:1453.60px;transform:scaleX(1.3037);font-size:24px">0.48,</div>
<div class="t r" style="top:1761.68px;left:1542.00px;transform:scaleX(1.2688);font-size:24px">1.00)</div>
<div class="t c" style="top:1761.68px;left:1628.30px;transform:scaleX(1.2775);font-size:24px">0.1</div>
<div class="t r" style="top:1804.41px;left:456.84px;transform:scaleX(1.3760)">Penzhorn, et al., 2002 [38]a</div>
<div class="t r" style="top:1803.72px;left:1345.60px;transform:scaleX(1.2775);font-size:24px">0.92</div>
<div class="t r" style="top:1803.72px;left:1425.60px;transform:scaleX(1.2775);font-size:24px">(</div>
<div class="t r" style="top:1803.72px;left:1453.60px;transform:scaleX(1.3037);font-size:24px">0.83,</div>
<div class="t r" style="top:1803.72px;left:1542.00px;transform:scaleX(1.2688);font-size:24px">0.98)</div>
<div class="t c" style="top:1803.72px;left:1628.30px;transform:scaleX(1.2775);font-size:24px">0.4</div>
<div class="t r" style="top:1846.46px;left:219.08px;transform:scaleX(1.3528)">Cheadle, Spencer, and Blagburn, 1999 [37]a</div>
<div class="t r" style="top:1845.76px;left:1345.60px;transform:scaleX(1.2775);font-size:24px">1.00</div>
<div class="t r" style="top:1845.76px;left:1425.60px;transform:scaleX(1.2775);font-size:24px">(</div>
<div class="t r" style="top:1845.76px;left:1453.60px;transform:scaleX(1.3037);font-size:24px">0.91,</div>
<div class="t r" style="top:1845.76px;left:1542.00px;transform:scaleX(1.2688);font-size:24px">1.00)</div>
<div class="t c" style="top:1845.76px;left:1628.30px;transform:scaleX(1.2775);font-size:24px">0.1</div>
<div class="t r" style="top:1888.50px;left:219.08px;transform:scaleX(1.3564)">Cheadle, Spencer, and Blagburn, 1999 [37]b</div>
<div class="t r" style="top:1887.81px;left:1345.60px;transform:scaleX(1.2775);font-size:24px">1.00</div>
<div class="t r" style="top:1887.81px;left:1425.60px;transform:scaleX(1.2775);font-size:24px">(</div>
<div class="t r" style="top:1887.81px;left:1453.60px;transform:scaleX(1.3037);font-size:24px">0.31,</div>
<div class="t r" style="top:1887.81px;left:1542.00px;transform:scaleX(1.2688);font-size:24px">1.00)</div>
<div class="t c" style="top:1887.81px;left:1628.30px;transform:scaleX(1.2775);font-size:24px">0.0</div>
<div class="t r" style="top:1930.54px;left:223.09px;transform:scaleX(1.3507)">Cheadle, Spencer, and Blagburn, 1999 [37]c</div>
<div class="t r" style="top:1929.85px;left:1345.60px;transform:scaleX(1.2775);font-size:24px">1.00</div>
<div class="t r" style="top:1929.85px;left:1425.60px;transform:scaleX(1.2775);font-size:24px">(</div>
<div class="t r" style="top:1929.85px;left:1453.60px;transform:scaleX(1.3037);font-size:24px">0.68,</div>
<div class="t r" style="top:1929.85px;left:1542.00px;transform:scaleX(1.2688);font-size:24px">1.00)</div>
<div class="t c" style="top:1929.85px;left:1628.30px;transform:scaleX(1.2775);font-size:24px">0.0</div>
<div class="t r" style="top:1972.59px;left:219.08px;transform:scaleX(1.3579)">Cheadle, Spencer, and Blagburn, 1999 [37]d</div>
<div class="t r" style="top:1971.90px;left:1345.60px;transform:scaleX(1.2775);font-size:24px">1.00</div>
<div class="t r" style="top:1971.90px;left:1425.60px;transform:scaleX(1.2775);font-size:24px">(</div>
<div class="t r" style="top:1971.90px;left:1453.60px;transform:scaleX(1.3037);font-size:24px">0.50,</div>
<div class="t r" style="top:1971.90px;left:1542.00px;transform:scaleX(1.2688);font-size:24px">1.00)</div>
<div class="t c" style="top:1971.90px;left:1628.30px;transform:scaleX(1.2775);font-size:24px">0.0</div>
<div class="t r" style="top:2014.63px;left:219.08px;transform:scaleX(1.3579)">Cheadle, Spencer, and Blagburn, 1999 [37]g</div>
<div class="t r" style="top:2013.94px;left:1345.60px;transform:scaleX(1.2775);font-size:24px">1.00</div>
<div class="t r" style="top:2013.94px;left:1425.60px;transform:scaleX(1.2775);font-size:24px">(</div>
<div class="t r" style="top:2013.94px;left:1453.60px;transform:scaleX(1.3037);font-size:24px">0.00,</div>
<div class="t r" style="top:2013.94px;left:1542.00px;transform:scaleX(1.2688);font-size:24px">1.00)</div>
<div class="t c" style="top:2013.94px;left:1628.30px;transform:scaleX(1.2775);font-size:24px">0.0</div>
<div class="t r" style="top:2056.68px;left:231.58px;transform:scaleX(1.3522)">Cheadle, Spencer, and Blagburn, 1999 [37]j</div>
<div class="t r" style="top:2055.98px;left:1345.60px;transform:scaleX(1.2775);font-size:24px">1.00</div>
<div class="t r" style="top:2055.98px;left:1425.60px;transform:scaleX(1.2775);font-size:24px">(</div>
<div class="t r" style="top:2055.98px;left:1453.60px;transform:scaleX(1.3037);font-size:24px">0.68,</div>
<div class="t r" style="top:2055.98px;left:1542.00px;transform:scaleX(1.2688);font-size:24px">1.00)</div>
<div class="t c" style="top:2055.98px;left:1628.30px;transform:scaleX(1.2775);font-size:24px">0.0</div>
<div class="t r" style="top:2098.65px;left:453.41px;transform:scaleX(1.3921)">Penzhorn, et al., 2002 [38]b</div>
<div class="t r" style="top:2097.96px;left:1345.60px;transform:scaleX(1.2775);font-size:24px">1.00</div>
<div class="t r" style="top:2097.96px;left:1425.60px;transform:scaleX(1.2775);font-size:24px">(</div>
<div class="t r" style="top:2097.96px;left:1453.60px;transform:scaleX(1.3037);font-size:24px">0.92,</div>
<div class="t r" style="top:2097.96px;left:1542.00px;transform:scaleX(1.2688);font-size:24px">1.00)</div>
<div class="t c" style="top:2097.96px;left:1628.30px;transform:scaleX(1.2775);font-size:24px">0.2</div>
<div class="t r" style="top:2140.63px;left:455.92px;transform:scaleX(1.3884)">Penzhorn, et al., 2002 [38]c</div>
<div class="t r" style="top:2139.93px;left:1345.60px;transform:scaleX(1.2775);font-size:24px">1.00</div>
<div class="t r" style="top:2139.93px;left:1425.60px;transform:scaleX(1.2775);font-size:24px">(</div>
<div class="t r" style="top:2139.93px;left:1453.60px;transform:scaleX(1.3037);font-size:24px">0.86,</div>
<div class="t r" style="top:2139.93px;left:1542.00px;transform:scaleX(1.2688);font-size:24px">1.00)</div>
<div class="t c" style="top:2139.93px;left:1628.30px;transform:scaleX(1.2775);font-size:24px">0.1</div>
<div class="t r" style="top:2182.60px;left:453.41px;transform:scaleX(1.3947)">Penzhorn, et al., 2002 [38]d</div>
<div class="t r" style="top:2181.91px;left:1345.60px;transform:scaleX(1.2775);font-size:24px">1.00</div>
<div class="t r" style="top:2181.91px;left:1425.60px;transform:scaleX(1.2775);font-size:24px">(</div>
<div class="t r" style="top:2181.91px;left:1453.60px;transform:scaleX(1.3037);font-size:24px">0.94,</div>
<div class="t r" style="top:2181.91px;left:1542.00px;transform:scaleX(1.2688);font-size:24px">1.00)</div>
<div class="t c" style="top:2181.91px;left:1628.30px;transform:scaleX(1.2775);font-size:24px">0.2</div>
<div class="t r" style="top:2224.58px;left:455.92px;transform:scaleX(1.3884)">Penzhorn, et al., 2002 [38]e</div>
<div class="t r" style="top:2223.88px;left:1345.60px;transform:scaleX(1.2775);font-size:24px">1.00</div>
<div class="t r" style="top:2223.88px;left:1425.60px;transform:scaleX(1.2775);font-size:24px">(</div>
<div class="t r" style="top:2223.88px;left:1453.60px;transform:scaleX(1.3037);font-size:24px">0.00,</div>
<div class="t r" style="top:2223.88px;left:1542.00px;transform:scaleX(1.2688);font-size:24px">1.00)</div>
<div class="t c" style="top:2223.88px;left:1628.30px;transform:scaleX(1.2775);font-size:24px">0.0</div>
<div class="t r" style="top:2307.58px;left:478.52px;transform:scaleX(1.3267)">Diagnostic IFAT subgroup</div>
<div class="t r" style="top:2306.88px;left:1345.60px;transform:scaleX(1.2775);font-size:24px">0.22</div>
<div class="t r" style="top:2306.88px;left:1425.60px;transform:scaleX(1.2775);font-size:24px">(</div>
<div class="t r" style="top:2306.88px;left:1453.60px;transform:scaleX(1.3037);font-size:24px">0.00,</div>
<div class="t r" style="top:2306.88px;left:1542.00px;transform:scaleX(1.2688);font-size:24px">0.65)</div>
<div class="t c" style="top:2306.88px;left:1628.30px;transform:scaleX(1.2775);font-size:24px">40.1</div>
<div class="t r" style="top:2349.60px;left:441.57px;transform:scaleX(1.4587)">Q=1145.60, p=0.00, I2=98%</div>
<div class="t r" style="top:2433.65px;left:489.53px;transform:scaleX(1.3180)">Diagnostic method ELISA</div>
<div class="t r" style="top:2475.68px;left:470.86px;transform:scaleX(1.4060)">Seltmann et al., 2020 [40]l</div>
<div class="t r" style="top:2474.98px;left:1345.60px;transform:scaleX(1.2775);font-size:24px">0.00</div>
<div class="t r" style="top:2474.98px;left:1425.60px;transform:scaleX(1.2775);font-size:24px">(</div>
<div class="t r" style="top:2474.98px;left:1453.60px;transform:scaleX(1.3037);font-size:24px">0.00,</div>
<div class="t r" style="top:2474.98px;left:1542.00px;transform:scaleX(1.2688);font-size:24px">0.08)</div>
<div class="t c" style="top:2474.98px;left:1628.30px;transform:scaleX(1.2775);font-size:24px">0.2</div>
<div class="t r" style="top:2517.13px;left:55.50px;transform:scaleX(1.3716)">van der Colf, Noden, Wilkinson, and Chipare, 2014 [61]</div>
<div class="t r" style="top:2516.43px;left:1345.60px;transform:scaleX(1.2775);font-size:24px">0.01</div>
<div class="t r" style="top:2516.43px;left:1425.60px;transform:scaleX(1.2775);font-size:24px">(</div>
<div class="t r" style="top:2516.43px;left:1453.60px;transform:scaleX(1.3037);font-size:24px">0.00,</div>
<div class="t r" style="top:2516.43px;left:1542.00px;transform:scaleX(1.2688);font-size:24px">0.03)</div>
<div class="t c" style="top:2516.43px;left:1628.30px;transform:scaleX(1.2775);font-size:24px">2.4</div>
<div class="t r" style="top:2558.98px;left:440.60px;transform:scaleX(1.3995)">Van der Colf et al., 2020 [63]</div>
<div class="t r" style="top:2558.28px;left:1345.60px;transform:scaleX(1.2775);font-size:24px">0.03</div>
<div class="t r" style="top:2558.28px;left:1425.60px;transform:scaleX(1.2775);font-size:24px">(</div>
<div class="t r" style="top:2558.28px;left:1453.60px;transform:scaleX(1.3037);font-size:24px">0.01,</div>
<div class="t r" style="top:2558.28px;left:1542.00px;transform:scaleX(1.2688);font-size:24px">0.05)</div>
<div class="t c" style="top:2558.28px;left:1628.30px;transform:scaleX(1.2775);font-size:24px">2.7</div>
<div class="t r" style="top:2601.33px;left:442.37px;transform:scaleX(1.3934)">Abu Samraa et al., 2007 [44]</div>
<div class="t r" style="top:2600.63px;left:1345.60px;transform:scaleX(1.2775);font-size:24px">0.04</div>
<div class="t r" style="top:2600.63px;left:1425.60px;transform:scaleX(1.2775);font-size:24px">(</div>
<div class="t r" style="top:2600.63px;left:1453.60px;transform:scaleX(1.3037);font-size:24px">0.03,</div>
<div class="t r" style="top:2600.63px;left:1542.00px;transform:scaleX(1.2688);font-size:24px">0.06)</div>
<div class="t c" style="top:2600.63px;left:1628.30px;transform:scaleX(1.2775);font-size:24px">4.6</div>
<div class="t r" style="top:2643.68px;left:369.31px;transform:scaleX(1.3924)">Hammond-Aryee et al., 2015 [46]</div>
<div class="t r" style="top:2642.98px;left:1345.60px;transform:scaleX(1.2775);font-size:24px">0.08</div>
<div class="t r" style="top:2642.98px;left:1425.60px;transform:scaleX(1.2775);font-size:24px">(</div>
<div class="t r" style="top:2642.98px;left:1453.60px;transform:scaleX(1.3037);font-size:24px">0.05,</div>
<div class="t r" style="top:2642.98px;left:1542.00px;transform:scaleX(1.2688);font-size:24px">0.11)</div>
<div class="t c" style="top:2642.98px;left:1628.30px;transform:scaleX(1.2775);font-size:24px">2.3</div>
<div class="t r" style="top:2686.13px;left:558.48px;transform:scaleX(1.4148)">Hari et al., 2007 [55]</div>
<div class="t r" style="top:2685.43px;left:1345.60px;transform:scaleX(1.2775);font-size:24px">0.08</div>
<div class="t r" style="top:2685.43px;left:1425.60px;transform:scaleX(1.2775);font-size:24px">(</div>
<div class="t r" style="top:2685.43px;left:1453.60px;transform:scaleX(1.3037);font-size:24px">0.05,</div>
<div class="t r" style="top:2685.43px;left:1542.00px;transform:scaleX(1.2688);font-size:24px">0.11)</div>
<div class="t c" style="top:2685.43px;left:1628.30px;transform:scaleX(1.2775);font-size:24px">2.4</div>
<div class="t r" style="top:2729.38px;left:463.87px;transform:scaleX(1.3949)">Seltmann et al., 2020 [40]k</div>
<div class="t r" style="top:2728.68px;left:1345.60px;transform:scaleX(1.2775);font-size:24px">0.10</div>
<div class="t r" style="top:2728.68px;left:1425.60px;transform:scaleX(1.2775);font-size:24px">(</div>
<div class="t r" style="top:2728.68px;left:1453.60px;transform:scaleX(1.3037);font-size:24px">0.00,</div>
<div class="t r" style="top:2728.68px;left:1542.00px;transform:scaleX(1.2688);font-size:24px">0.28)</div>
<div class="t c" style="top:2728.68px;left:1628.30px;transform:scaleX(1.2775);font-size:24px">0.2</div>
<div class="t r" style="top:2771.63px;left:392.31px;transform:scaleX(1.3930)">Ngobeni and Samie, 2017 [62]b</div>
<div class="t r" style="top:2770.93px;left:1345.60px;transform:scaleX(1.2775);font-size:24px">0.17</div>
<div class="t r" style="top:2770.93px;left:1425.60px;transform:scaleX(1.2775);font-size:24px">(</div>
<div class="t r" style="top:2770.93px;left:1453.60px;transform:scaleX(1.3037);font-size:24px">0.11,</div>
<div class="t r" style="top:2770.93px;left:1542.00px;transform:scaleX(1.2688);font-size:24px">0.23)</div>
<div class="t c" style="top:2770.93px;left:1628.30px;transform:scaleX(1.2775);font-size:24px">1.3</div>
<div class="t r" style="top:2813.88px;left:370.84px;transform:scaleX(1.3729)">Bessong and Mathomu 2010 [57]</div>
<div class="t r" style="top:2813.18px;left:1345.60px;transform:scaleX(1.2775);font-size:24px">0.18</div>
<div class="t r" style="top:2813.18px;left:1425.60px;transform:scaleX(1.2775);font-size:24px">(</div>
<div class="t r" style="top:2813.18px;left:1453.60px;transform:scaleX(1.3037);font-size:24px">0.13,</div>
<div class="t r" style="top:2813.18px;left:1542.00px;transform:scaleX(1.2688);font-size:24px">0.25)</div>
<div class="t c" style="top:2813.18px;left:1628.30px;transform:scaleX(1.2775);font-size:24px">1.2</div>
<div class="t r" style="top:2856.05px;left:544.96px;transform:scaleX(1.4053)">Sitoe et al., 2010 [58]</div>
<div class="t r" style="top:2855.36px;left:1345.60px;transform:scaleX(1.2775);font-size:24px">0.19</div>
<div class="t r" style="top:2855.36px;left:1425.60px;transform:scaleX(1.2775);font-size:24px">(</div>
<div class="t r" style="top:2855.36px;left:1453.60px;transform:scaleX(1.3037);font-size:24px">0.13,</div>
<div class="t r" style="top:2855.36px;left:1542.00px;transform:scaleX(1.2688);font-size:24px">0.25)</div>
<div class="t c" style="top:2855.36px;left:1628.30px;transform:scaleX(1.2775);font-size:24px">1.2</div>
<div class="t r" style="top:2898.23px;left:538.47px;transform:scaleX(1.4216)">Ndou et al., 2013 [45]</div>
<div class="t r" style="top:2897.53px;left:1345.60px;transform:scaleX(1.2775);font-size:24px">0.21</div>
<div class="t r" style="top:2897.53px;left:1425.60px;transform:scaleX(1.2775);font-size:24px">(</div>
<div class="t r" style="top:2897.53px;left:1453.60px;transform:scaleX(1.3037);font-size:24px">0.15,</div>
<div class="t r" style="top:2897.53px;left:1542.00px;transform:scaleX(1.2688);font-size:24px">0.27)</div>
<div class="t c" style="top:2897.53px;left:1628.30px;transform:scaleX(1.2775);font-size:24px">1.4</div>
<div class="t r" style="top:2940.40px;left:425.92px;transform:scaleX(1.3890)">Lobetti and Lappin, 2012 [29]</div>
<div class="t r" style="top:2939.71px;left:1345.60px;transform:scaleX(1.2775);font-size:24px">0.22</div>
<div class="t r" style="top:2939.71px;left:1425.60px;transform:scaleX(1.2775);font-size:24px">(</div>
<div class="t r" style="top:2939.71px;left:1453.60px;transform:scaleX(1.3037);font-size:24px">0.14,</div>
<div class="t r" style="top:2939.71px;left:1542.00px;transform:scaleX(1.2688);font-size:24px">0.30)</div>
<div class="t c" style="top:2939.71px;left:1628.30px;transform:scaleX(1.2775);font-size:24px">0.8</div>
<div class="t r" style="top:2982.58px;left:461.36px;transform:scaleX(1.4040)">Seltmann et al., 2020 [40]h</div>
<div class="t r" style="top:2981.88px;left:1345.60px;transform:scaleX(1.2775);font-size:24px">0.25</div>
<div class="t r" style="top:2981.88px;left:1425.60px;transform:scaleX(1.2775);font-size:24px">(</div>
<div class="t r" style="top:2981.88px;left:1453.60px;transform:scaleX(1.3037);font-size:24px">0.00,</div>
<div class="t r" style="top:2981.88px;left:1542.00px;transform:scaleX(1.2688);font-size:24px">0.79)</div>
<div class="t c" style="top:2981.88px;left:1628.30px;transform:scaleX(1.2775);font-size:24px">0.0</div>
<div class="t r" style="top:3024.63px;left:484.87px;transform:scaleX(1.3872)">Adesiyun et al., 2020 [47]</div>
<div class="t r" style="top:3023.93px;left:1345.60px;transform:scaleX(1.2775);font-size:24px">0.33</div>
<div class="t r" style="top:3023.93px;left:1425.60px;transform:scaleX(1.2775);font-size:24px">(</div>
<div class="t r" style="top:3023.93px;left:1453.60px;transform:scaleX(1.3037);font-size:24px">0.26,</div>
<div class="t r" style="top:3023.93px;left:1542.00px;transform:scaleX(1.2688);font-size:24px">0.40)</div>
<div class="t c" style="top:3023.93px;left:1628.30px;transform:scaleX(1.2775);font-size:24px">1.4</div>
<div class="t r" style="top:3066.68px;left:393.31px;transform:scaleX(1.3968)">Ngobeni and Samie, 2017 [62]a</div>
<div class="t r" style="top:3065.98px;left:1345.60px;transform:scaleX(1.2775);font-size:24px">0.38</div>
<div class="t r" style="top:3065.98px;left:1425.60px;transform:scaleX(1.2775);font-size:24px">(</div>
<div class="t r" style="top:3065.98px;left:1453.60px;transform:scaleX(1.3037);font-size:24px">0.31,</div>
<div class="t r" style="top:3065.98px;left:1542.00px;transform:scaleX(1.2688);font-size:24px">0.46)</div>
<div class="t c" style="top:3065.98px;left:1628.30px;transform:scaleX(1.2775);font-size:24px">1.3</div>
<div class="t r" style="top:3108.73px;left:461.36px;transform:scaleX(1.4067)">Seltmann et al., 2020 [40]d</div>
<div class="t r" style="top:3108.03px;left:1345.60px;transform:scaleX(1.2775);font-size:24px">0.52</div>
<div class="t r" style="top:3108.03px;left:1425.60px;transform:scaleX(1.2775);font-size:24px">(</div>
<div class="t r" style="top:3108.03px;left:1453.60px;transform:scaleX(1.3037);font-size:24px">0.46,</div>
<div class="t r" style="top:3108.03px;left:1542.00px;transform:scaleX(1.2688);font-size:24px">0.59)</div>
<div class="t c" style="top:3108.03px;left:1628.30px;transform:scaleX(1.2775);font-size:24px">1.9</div>
<div class="t r" style="top:3150.58px;left:465.87px;transform:scaleX(1.3892)">Seltmann et al., 2020 [40]c</div>
<div class="t r" style="top:3149.88px;left:1345.60px;transform:scaleX(1.2775);font-size:24px">0.67</div>
<div class="t r" style="top:3149.88px;left:1425.60px;transform:scaleX(1.2775);font-size:24px">(</div>
<div class="t r" style="top:3149.88px;left:1453.60px;transform:scaleX(1.3037);font-size:24px">0.41,</div>
<div class="t r" style="top:3149.88px;left:1542.00px;transform:scaleX(1.2688);font-size:24px">0.89)</div>
<div class="t c" style="top:3149.88px;left:1628.30px;transform:scaleX(1.2775);font-size:24px">0.1</div>
<div class="t r" style="top:3192.43px;left:470.86px;transform:scaleX(1.4060)">Seltmann et al., 2020 [40]i</div>
<div class="t r" style="top:3191.73px;left:1345.60px;transform:scaleX(1.2775);font-size:24px">0.67</div>
<div class="t r" style="top:3191.73px;left:1425.60px;transform:scaleX(1.2775);font-size:24px">(</div>
<div class="t r" style="top:3191.73px;left:1453.60px;transform:scaleX(1.3037);font-size:24px">0.51,</div>
<div class="t r" style="top:3191.73px;left:1542.00px;transform:scaleX(1.2688);font-size:24px">0.81)</div>
<div class="t c" style="top:3191.73px;left:1628.30px;transform:scaleX(1.2775);font-size:24px">0.3</div>
<div class="t r" style="top:3234.28px;left:470.86px;transform:scaleX(1.4098)">Seltmann et al., 2020 [40]j</div>
<div class="t r" style="top:3233.58px;left:1345.60px;transform:scaleX(1.2775);font-size:24px">0.70</div>
<div class="t r" style="top:3233.58px;left:1425.60px;transform:scaleX(1.2775);font-size:24px">(</div>
<div class="t r" style="top:3233.58px;left:1453.60px;transform:scaleX(1.3037);font-size:24px">0.38,</div>
<div class="t r" style="top:3233.58px;left:1542.00px;transform:scaleX(1.2688);font-size:24px">0.95)</div>
<div class="t c" style="top:3233.58px;left:1628.30px;transform:scaleX(1.2775);font-size:24px">0.1</div>
<div class="t r" style="top:3276.33px;left:461.36px;transform:scaleX(1.4067)">Seltmann et al., 2020 [40]g</div>
<div class="t r" style="top:3275.63px;left:1345.60px;transform:scaleX(1.2775);font-size:24px">0.71</div>
<div class="t r" style="top:3275.63px;left:1425.60px;transform:scaleX(1.2775);font-size:24px">(</div>
<div class="t r" style="top:3275.63px;left:1453.60px;transform:scaleX(1.3037);font-size:24px">0.32,</div>
<div class="t r" style="top:3275.63px;left:1542.00px;transform:scaleX(1.2688);font-size:24px">0.99)</div>
<div class="t c" style="top:3275.63px;left:1628.30px;transform:scaleX(1.2775);font-size:24px">0.1</div>
<div class="t r" style="top:3318.38px;left:463.87px;transform:scaleX(1.4002)">Seltmann et al., 2020 [40]e</div>
<div class="t r" style="top:3317.68px;left:1345.60px;transform:scaleX(1.2775);font-size:24px">0.81</div>
<div class="t r" style="top:3317.68px;left:1425.60px;transform:scaleX(1.2775);font-size:24px">(</div>
<div class="t r" style="top:3317.68px;left:1453.60px;transform:scaleX(1.3037);font-size:24px">0.70,</div>
<div class="t r" style="top:3317.68px;left:1542.00px;transform:scaleX(1.2688);font-size:24px">0.90)</div>
<div class="t c" style="top:3317.68px;left:1628.30px;transform:scaleX(1.2775);font-size:24px">0.5</div>
<div class="t r" style="top:3360.43px;left:468.87px;transform:scaleX(1.3970)">Seltmann et al., 2020 [40]f</div>
<div class="t r" style="top:3359.73px;left:1345.60px;transform:scaleX(1.2775);font-size:24px">0.91</div>
<div class="t r" style="top:3359.73px;left:1425.60px;transform:scaleX(1.2775);font-size:24px">(</div>
<div class="t r" style="top:3359.73px;left:1453.60px;transform:scaleX(1.3037);font-size:24px">0.65,</div>
<div class="t r" style="top:3359.73px;left:1542.00px;transform:scaleX(1.2688);font-size:24px">1.00)</div>
<div class="t c" style="top:3359.73px;left:1628.30px;transform:scaleX(1.2775);font-size:24px">0.1</div>
<div class="t r" style="top:3402.48px;left:461.36px;transform:scaleX(1.4040)">Seltmann et al., 2020 [40]b</div>
<div class="t r" style="top:3401.78px;left:1345.60px;transform:scaleX(1.2775);font-size:24px">0.92</div>
<div class="t r" style="top:3401.78px;left:1425.60px;transform:scaleX(1.2775);font-size:24px">(</div>
<div class="t r" style="top:3401.78px;left:1453.60px;transform:scaleX(1.3037);font-size:24px">0.70,</div>
<div class="t r" style="top:3401.78px;left:1542.00px;transform:scaleX(1.2688);font-size:24px">1.00)</div>
<div class="t c" style="top:3401.78px;left:1628.30px;transform:scaleX(1.2775);font-size:24px">0.1</div>
<div class="t r" style="top:3444.53px;left:463.87px;transform:scaleX(1.3949)">Seltmann et al., 2020 [40]a</div>
<div class="t r" style="top:3443.83px;left:1345.60px;transform:scaleX(1.2775);font-size:24px">0.93</div>
<div class="t r" style="top:3443.83px;left:1425.60px;transform:scaleX(1.2775);font-size:24px">(</div>
<div class="t r" style="top:3443.83px;left:1453.60px;transform:scaleX(1.3037);font-size:24px">0.85,</div>
<div class="t r" style="top:3443.83px;left:1542.00px;transform:scaleX(1.2688);font-size:24px">0.98)</div>
<div class="t c" style="top:3443.83px;left:1628.30px;transform:scaleX(1.2775);font-size:24px">0.5</div>
<div class="t r" style="top:3528.63px;left:336.10px;transform:scaleX(1.3348)">Diagnostic method ELISA subgroup</div>
<div class="t r" style="top:3527.93px;left:1345.60px;transform:scaleX(1.2775);font-size:24px">0.16</div>
<div class="t r" style="top:3527.93px;left:1425.60px;transform:scaleX(1.2775);font-size:24px">(</div>
<div class="t r" style="top:3527.93px;left:1453.60px;transform:scaleX(1.3037);font-size:24px">0.05,</div>
<div class="t r" style="top:3527.93px;left:1542.00px;transform:scaleX(1.2688);font-size:24px">0.28)</div>
<div class="t c" style="top:3527.93px;left:1628.30px;transform:scaleX(1.2775);font-size:24px">26.9</div>
<div class="t r" style="top:3571.05px;left:441.58px;transform:scaleX(1.4532)">Q=1017.80, p=0.00, I2=98%</div>
<div class="t r" style="top:3655.90px;left:595.10px;transform:scaleX(1.3331)">Other diagnostics</div>
<div class="t r" style="top:3698.33px;left:533.33px;transform:scaleX(1.3818)">Lopes et al., 2017 [32]</div>
<div class="t r" style="top:3697.63px;left:1345.60px;transform:scaleX(1.2775);font-size:24px">0.04</div>
<div class="t r" style="top:3697.63px;left:1425.60px;transform:scaleX(1.2775);font-size:24px">(</div>
<div class="t r" style="top:3697.63px;left:1453.60px;transform:scaleX(1.3037);font-size:24px">0.01,</div>
<div class="t r" style="top:3697.63px;left:1542.00px;transform:scaleX(1.2688);font-size:24px">0.09)</div>
<div class="t c" style="top:3697.63px;left:1628.30px;transform:scaleX(1.2775);font-size:24px">0.8</div>
<div class="t r" style="top:3740.41px;left:332.05px;transform:scaleX(1.3667)">Pandey and Van Knapen, 1992 [41]c</div>
<div class="t r" style="top:3739.72px;left:1345.60px;transform:scaleX(1.2775);font-size:24px">0.03</div>
<div class="t r" style="top:3739.72px;left:1425.60px;transform:scaleX(1.2775);font-size:24px">(</div>
<div class="t r" style="top:3739.72px;left:1453.60px;transform:scaleX(1.3037);font-size:24px">0.02,</div>
<div class="t r" style="top:3739.72px;left:1542.00px;transform:scaleX(1.2688);font-size:24px">0.06)</div>
<div class="t c" style="top:3739.72px;left:1628.30px;transform:scaleX(1.2775);font-size:24px">2.4</div>
<div class="t r" style="top:3782.49px;left:510.76px;transform:scaleX(1.4036)">Zumla et al., 1991 [54]a</div>
<div class="t r" style="top:3781.80px;left:1345.60px;transform:scaleX(1.2775);font-size:24px">0.04</div>
<div class="t r" style="top:3781.80px;left:1425.60px;transform:scaleX(1.2775);font-size:24px">(</div>
<div class="t r" style="top:3781.80px;left:1453.60px;transform:scaleX(1.3037);font-size:24px">0.02,</div>
<div class="t r" style="top:3781.80px;left:1542.00px;transform:scaleX(1.2688);font-size:24px">0.08)</div>
<div class="t c" style="top:3781.80px;left:1628.30px;transform:scaleX(1.2775);font-size:24px">1.5</div>
<div class="t r" style="top:3824.58px;left:588.07px;transform:scaleX(1.4165)">Kistiah 2011 [59]a</div>
<div class="t r" style="top:3823.88px;left:1345.60px;transform:scaleX(1.2775);font-size:24px">0.06</div>
<div class="t r" style="top:3823.88px;left:1425.60px;transform:scaleX(1.2775);font-size:24px">(</div>
<div class="t r" style="top:3823.88px;left:1453.60px;transform:scaleX(1.3037);font-size:24px">0.04,</div>
<div class="t r" style="top:3823.88px;left:1542.00px;transform:scaleX(1.2688);font-size:24px">0.09)</div>
<div class="t c" style="top:3823.88px;left:1628.30px;transform:scaleX(1.2775);font-size:24px">3.9</div>
<div class="t r" style="top:3865.73px;left:325.95px;transform:scaleX(1.3699)">Pandey and Van Knapen, 1992 [41]b</div>
<div class="t r" style="top:3865.03px;left:1345.60px;transform:scaleX(1.2775);font-size:24px">0.04</div>
<div class="t r" style="top:3865.03px;left:1425.60px;transform:scaleX(1.2775);font-size:24px">(</div>
<div class="t r" style="top:3865.03px;left:1453.60px;transform:scaleX(1.3037);font-size:24px">0.02,</div>
<div class="t r" style="top:3865.03px;left:1542.00px;transform:scaleX(1.2688);font-size:24px">0.08)</div>
<div class="t c" style="top:3865.03px;left:1628.30px;transform:scaleX(1.2775);font-size:24px">1.2</div>
<div class="t r" style="top:3907.65px;left:328.56px;transform:scaleX(1.3629)">Pandey and Van Knapen, 1992 [41]a</div>
<div class="t r" style="top:3906.96px;left:1345.60px;transform:scaleX(1.2775);font-size:24px">0.06</div>
<div class="t r" style="top:3906.96px;left:1425.60px;transform:scaleX(1.2775);font-size:24px">(</div>
<div class="t r" style="top:3906.96px;left:1453.60px;transform:scaleX(1.3037);font-size:24px">0.03,</div>
<div class="t r" style="top:3906.96px;left:1542.00px;transform:scaleX(1.2688);font-size:24px">0.10)</div>
<div class="t c" style="top:3906.96px;left:1628.30px;transform:scaleX(1.2775);font-size:24px">1.7</div>
<div class="t r" style="top:3949.58px;left:462.39px;transform:scaleX(1.4064)">Hove and Dubey 1999 [42]</div>
<div class="t r" style="top:3948.88px;left:1345.60px;transform:scaleX(1.2775);font-size:24px">0.09</div>
<div class="t r" style="top:3948.88px;left:1425.60px;transform:scaleX(1.2775);font-size:24px">(</div>
<div class="t r" style="top:3948.88px;left:1453.60px;transform:scaleX(1.3037);font-size:24px">0.04,</div>
<div class="t r" style="top:3948.88px;left:1542.00px;transform:scaleX(1.2688);font-size:24px">0.16)</div>
<div class="t c" style="top:3948.88px;left:1628.30px;transform:scaleX(1.2775);font-size:24px">0.8</div>
<div class="t r" style="top:3991.50px;left:593.50px;transform:scaleX(1.4005)">Kistiah 2011 [59]c</div>
<div class="t r" style="top:3990.81px;left:1345.60px;transform:scaleX(1.2775);font-size:24px">0.10</div>
<div class="t r" style="top:3990.81px;left:1425.60px;transform:scaleX(1.2775);font-size:24px">(</div>
<div class="t r" style="top:3990.81px;left:1453.60px;transform:scaleX(1.3037);font-size:24px">0.07,</div>
<div class="t r" style="top:3990.81px;left:1542.00px;transform:scaleX(1.2688);font-size:24px">0.13)</div>
<div class="t c" style="top:3990.81px;left:1628.30px;transform:scaleX(1.2775);font-size:24px">2.9</div>
<div class="t r" style="top:4033.43px;left:507.46px;transform:scaleX(1.4174)">Zumla et al., 1991 [54]b</div>
<div class="t r" style="top:4032.73px;left:1345.60px;transform:scaleX(1.2775);font-size:24px">0.11</div>
<div class="t r" style="top:4032.73px;left:1425.60px;transform:scaleX(1.2775);font-size:24px">(</div>
<div class="t r" style="top:4032.73px;left:1453.60px;transform:scaleX(1.3037);font-size:24px">0.07,</div>
<div class="t r" style="top:4032.73px;left:1542.00px;transform:scaleX(1.2688);font-size:24px">0.15)</div>
<div class="t c" style="top:4032.73px;left:1628.30px;transform:scaleX(1.2775);font-size:24px">1.5</div>
<div class="t r" style="top:4075.53px;left:454.89px;transform:scaleX(1.4035)">Mc Connell et al., 1973 [35]</div>
<div class="t r" style="top:4074.83px;left:1345.60px;transform:scaleX(1.2775);font-size:24px">0.33</div>
<div class="t r" style="top:4074.83px;left:1425.60px;transform:scaleX(1.2775);font-size:24px">(</div>
<div class="t r" style="top:4074.83px;left:1453.60px;transform:scaleX(1.3037);font-size:24px">0.24,</div>
<div class="t r" style="top:4074.83px;left:1542.00px;transform:scaleX(1.2688);font-size:24px">0.43)</div>
<div class="t c" style="top:4074.83px;left:1628.30px;transform:scaleX(1.2775);font-size:24px">0.7</div>
<div class="t r" style="top:4117.63px;left:588.48px;transform:scaleX(1.4144)">Kistiah 2011 [59]b</div>
<div class="t r" style="top:4116.93px;left:1345.60px;transform:scaleX(1.2775);font-size:24px">0.13</div>
<div class="t r" style="top:4116.93px;left:1425.60px;transform:scaleX(1.2775);font-size:24px">(</div>
<div class="t r" style="top:4116.93px;left:1453.60px;transform:scaleX(1.3037);font-size:24px">0.10,</div>
<div class="t r" style="top:4116.93px;left:1542.00px;transform:scaleX(1.2688);font-size:24px">0.16)</div>
<div class="t c" style="top:4116.93px;left:1628.30px;transform:scaleX(1.2775);font-size:24px">2.9</div>
<div class="t r" style="top:4159.73px;left:509.29px;transform:scaleX(1.4036)">Hove et al., 2005a [43]a</div>
<div class="t r" style="top:4159.03px;left:1345.60px;transform:scaleX(1.2775);font-size:24px">0.20</div>
<div class="t r" style="top:4159.03px;left:1425.60px;transform:scaleX(1.2775);font-size:24px">(</div>
<div class="t r" style="top:4159.03px;left:1453.60px;transform:scaleX(1.3037);font-size:24px">0.15,</div>
<div class="t r" style="top:4159.03px;left:1542.00px;transform:scaleX(1.2688);font-size:24px">0.25)</div>
<div class="t c" style="top:4159.03px;left:1628.30px;transform:scaleX(1.2775);font-size:24px">1.8</div>
<div class="t r" style="top:4201.83px;left:505.28px;transform:scaleX(1.4141)">Hove et al., 2005a [43]b</div>
<div class="t r" style="top:4201.13px;left:1345.60px;transform:scaleX(1.2775);font-size:24px">0.36</div>
<div class="t r" style="top:4201.13px;left:1425.60px;transform:scaleX(1.2775);font-size:24px">(</div>
<div class="t r" style="top:4201.13px;left:1453.60px;transform:scaleX(1.3037);font-size:24px">0.25,</div>
<div class="t r" style="top:4201.13px;left:1542.00px;transform:scaleX(1.2688);font-size:24px">0.47)</div>
<div class="t c" style="top:4201.13px;left:1628.30px;transform:scaleX(1.2775);font-size:24px">0.5</div>
<div class="t r" style="top:4243.93px;left:618.67px;transform:scaleX(1.3530)">Fasser 1955 [64]</div>
<div class="t r" style="top:4243.23px;left:1345.60px;transform:scaleX(1.2775);font-size:24px">1.00</div>
<div class="t r" style="top:4243.23px;left:1425.60px;transform:scaleX(1.2775);font-size:24px">(</div>
<div class="t r" style="top:4243.23px;left:1453.60px;transform:scaleX(1.3037);font-size:24px">0.00,</div>
<div class="t r" style="top:4243.23px;left:1542.00px;transform:scaleX(1.2688);font-size:24px">1.00)</div>
<div class="t c" style="top:4243.23px;left:1628.30px;transform:scaleX(1.2775);font-size:24px">0.0</div>
<div class="t r" style="top:4286.03px;left:238.43px;transform:scaleX(1.3820)">Nagel, Williams, and Schoeman, 2013 [30]</div>
<div class="t r" style="top:4285.33px;left:1345.60px;transform:scaleX(1.2775);font-size:24px">1.00</div>
<div class="t r" style="top:4285.33px;left:1425.60px;transform:scaleX(1.2775);font-size:24px">(</div>
<div class="t r" style="top:4285.33px;left:1453.60px;transform:scaleX(1.3037);font-size:24px">0.00,</div>
<div class="t r" style="top:4285.33px;left:1542.00px;transform:scaleX(1.2688);font-size:24px">1.00)</div>
<div class="t c" style="top:4285.33px;left:1628.30px;transform:scaleX(1.2775);font-size:24px">0.0</div>
<div class="t r" style="top:4370.33px;left:449.21px;transform:scaleX(1.3309)">Other diagnostics subgroup</div>
<div class="t r" style="top:4369.63px;left:1345.60px;transform:scaleX(1.2775);font-size:24px">0.09</div>
<div class="t r" style="top:4369.63px;left:1425.60px;transform:scaleX(1.2775);font-size:24px">(</div>
<div class="t r" style="top:4369.63px;left:1453.60px;transform:scaleX(1.3037);font-size:24px">0.05,</div>
<div class="t r" style="top:4369.63px;left:1542.00px;transform:scaleX(1.2688);font-size:24px">0.14)</div>
<div class="t c" style="top:4369.63px;left:1628.30px;transform:scaleX(1.2775);font-size:24px">22.6</div>
<div class="t r" style="top:4412.38px;left:461.59px;transform:scaleX(1.4437)">Q=145.91, p=0.00, I2=90%</div>
<div class="t r" style="top:4496.48px;left:749.05px;transform:scaleX(1.3865)">Overall</div>
<div class="t r" style="top:4495.78px;left:1345.60px;transform:scaleX(1.2775);font-size:24px">0.17</div>
<div class="t r" style="top:4495.78px;left:1425.60px;transform:scaleX(1.2775);font-size:24px">(</div>
<div class="t r" style="top:4495.78px;left:1453.60px;transform:scaleX(1.3037);font-size:24px">0.07,</div>
<div class="t r" style="top:4495.78px;left:1542.00px;transform:scaleX(1.2688);font-size:24px">0.29)</div>
<div class="t c" style="top:4495.78px;left:1628.30px;transform:scaleX(1.2775);font-size:24px">100.0</div>
<div class="t r" style="top:4538.53px;left:441.58px;transform:scaleX(1.4532)">Q=2942.96, p=0.00, I2=97%</div>
<div class="t c" style="top:4606.18px;left:823.40px;transform:scaleX(1.4100);font-size:24px">0</div>
<div class="t c" style="top:4606.18px;left:905.00px;transform:scaleX(1.4100);font-size:24px">0.2</div>
<div class="t c" style="top:4606.18px;left:986.60px;transform:scaleX(1.4100);font-size:24px">0.4</div>
<div class="t c" style="top:4606.18px;left:1068.20px;transform:scaleX(1.4100);font-size:24px">0.6</div>
<div class="t c" style="top:4606.18px;left:1149.80px;transform:scaleX(1.4100);font-size:24px">0.8</div>
<div class="t c" style="top:4606.18px;left:1229.20px;transform:scaleX(1.4100);font-size:24px">1</div>
<div class="t r" style="top:4642.16px;left:999.60px;transform:scaleX(1.3705);font-size:23.5px">Prevalence</div>
</div></body></html>
